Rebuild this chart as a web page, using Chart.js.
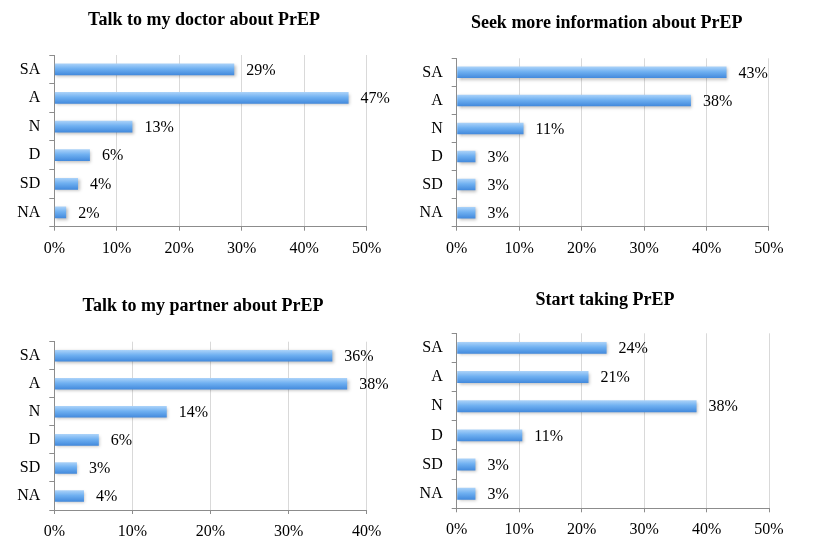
<!DOCTYPE html>
<html>
<head>
<meta charset="utf-8">
<script src="https://cdn.jsdelivr.net/npm/chart.js@4.4.1/dist/chart.umd.min.js"></script>
<style>
  html, body { margin: 0; padding: 0; background: #fff; }
  #wrap { position: relative; width: 815px; height: 558px; overflow: hidden; }
  .panel { position: absolute; }
</style>
</head>
<body>
<div id="wrap">
  <div class="panel" style="left:0px;top:0px;width:408px;height:270px"><canvas id="c1"></canvas></div>
  <div class="panel" style="left:404px;top:0px;width:405.4px;height:270px"><canvas id="c2"></canvas></div>
  <div class="panel" style="left:0px;top:280px;width:406px;height:278px"><canvas id="c3"></canvas></div>
  <div class="panel" style="left:404px;top:280px;width:402px;height:278px"><canvas id="c4"></canvas></div>
</div>
<script>
// Response categories (top to bottom)
const categories = ['SA', 'A', 'N', 'D', 'SD', 'NA'];

// Percent of respondents
const doctorValues  = [28.8, 47.1, 12.5, 5.7, 3.8, 1.9];
const infoValues    = [43.2, 37.5, 10.7, 3.0, 3.0, 3.0];
const partnerValues = [35.6, 37.5, 14.4, 5.7, 2.9, 3.8];
const startValues   = [24.0, 21.1, 38.4, 10.5, 3.0, 3.0];

const panelTitles = [
    'Talk to my doctor about PrEP',
    'Seek more information about PrEP',
    'Talk to my partner about PrEP',
    'Start taking PrEP'
];
const axisMax = [50, 50, 40, 50];

const SERIF = "'Liberation Serif', 'Times New Roman', serif";
const BAR_PCT = 0.41;

// vertical gradient on each bar, lighter on top
function barFill(ctx) {
    const chart = ctx.chart;
    const y = chart.scales && chart.scales.y;
    if (!chart.chartArea || !y || ctx.dataIndex === undefined) return '#6aaef0';
    const center = y.getPixelForValue(ctx.dataIndex);
    const band = Math.abs(y.getPixelForValue(1) - y.getPixelForValue(0)) * BAR_PCT;
    const g = chart.ctx.createLinearGradient(0, center - band / 2, 0, center + band / 2);
    g.addColorStop(0, '#acd3f9');
    g.addColorStop(0.45, '#6fb0f1');
    g.addColorStop(1, '#4289dc');
    return g;
}

// soft drop shadow under the bars + value labels on the right
const barDecor = {
    id: 'barDecor',
    beforeDatasetsDraw(chart) {
        const c = chart.ctx;
        c.save();
        c.shadowColor = 'rgba(0,0,0,0.25)';
        c.shadowBlur = 3;
        c.shadowOffsetX = 1.5;
        c.shadowOffsetY = 1.5;
    },
    afterDatasetsDraw(chart) {
        const c = chart.ctx;
        c.restore();
        const meta = chart.getDatasetMeta(0);
        const data = chart.data.datasets[0].data;
        c.save();
        c.font = '16px ' + SERIF;
        c.fillStyle = '#000';
        c.textAlign = 'left';
        c.textBaseline = 'middle';
        meta.data.forEach((bar, i) => {
            c.fillText(Math.round(data[i]) + '%', bar.x + 12, bar.y + 1);
        });
        c.restore();
    }
};

function makeChart(id, title, values, max, geo) {
    return new Chart(document.getElementById(id), {
        type: 'bar',
        data: {
            labels: categories,
            datasets: [{
                data: values,
                backgroundColor: barFill,
                borderWidth: 0,
                barPercentage: BAR_PCT,
                categoryPercentage: 1
            }]
        },
        options: {
            indexAxis: 'y',
            responsive: true,
            maintainAspectRatio: false,
            animation: false,
            layout: { padding: 0 },
            plugins: {
                legend: { display: false },
                tooltip: { enabled: false },
                title: {
                    display: true,
                    text: title,
                    color: '#000',
                    font: { family: SERIF, size: 18, weight: 'bold', lineHeight: 1.2 },
                    padding: { top: geo.titleTop, bottom: geo.titleBottom }
                }
            },
            scales: {
                x: {
                    min: 0,
                    max: max,
                    ticks: {
                        stepSize: 10,
                        color: '#000',
                        padding: 8,
                        font: { family: SERIF, size: 16 },
                        callback: v => v + '%'
                    },
                    grid: { color: '#d9d9d9', tickColor: '#8c8c8c', tickLength: 4 },
                    border: { color: '#8c8c8c' },
                    afterFit: s => { s.height = geo.xHeight; }
                },
                y: {
                    ticks: {
                        color: '#000',
                        padding: 9,
                        font: { family: SERIF, size: 16 }
                    },
                    grid: { drawOnChartArea: false, tickColor: '#8c8c8c', tickLength: 5, offset: true },
                    border: { color: '#8c8c8c' },
                    afterFit: s => { s.width = geo.yWidth; }
                },
                // empty right-hand spacer so the title centres like the original
                spacer: {
                    type: 'category',
                    position: 'right',
                    ticks: { display: false },
                    grid: { display: false },
                    border: { display: false },
                    afterFit: s => { s.width = geo.rightWidth; }
                }
            }
        },
        plugins: [barDecor]
    });
}

makeChart('c1', panelTitles[0], doctorValues, axisMax[0],
    { yWidth: 54.3, rightWidth: 41.3, titleTop: 9.2, titleBottom: 24.2, xHeight: 43.3 });
makeChart('c2', panelTitles[1], infoValues, axisMax[1],
    { yWidth: 52.7, rightWidth: 40.4, titleTop: 12.2, titleBottom: 24.5, xHeight: 43.3 });
makeChart('c3', panelTitles[2], partnerValues, axisMax[2],
    { yWidth: 54.3, rightWidth: 39.3, titleTop: 15.9, titleBottom: 24.2, xHeight: 48 });
makeChart('c4', panelTitles[3], startValues, axisMax[3],
    { yWidth: 52.7, rightWidth: 37, titleTop: 9.2, titleBottom: 22.5, xHeight: 49.7 });
</script>
</body>
</html>
